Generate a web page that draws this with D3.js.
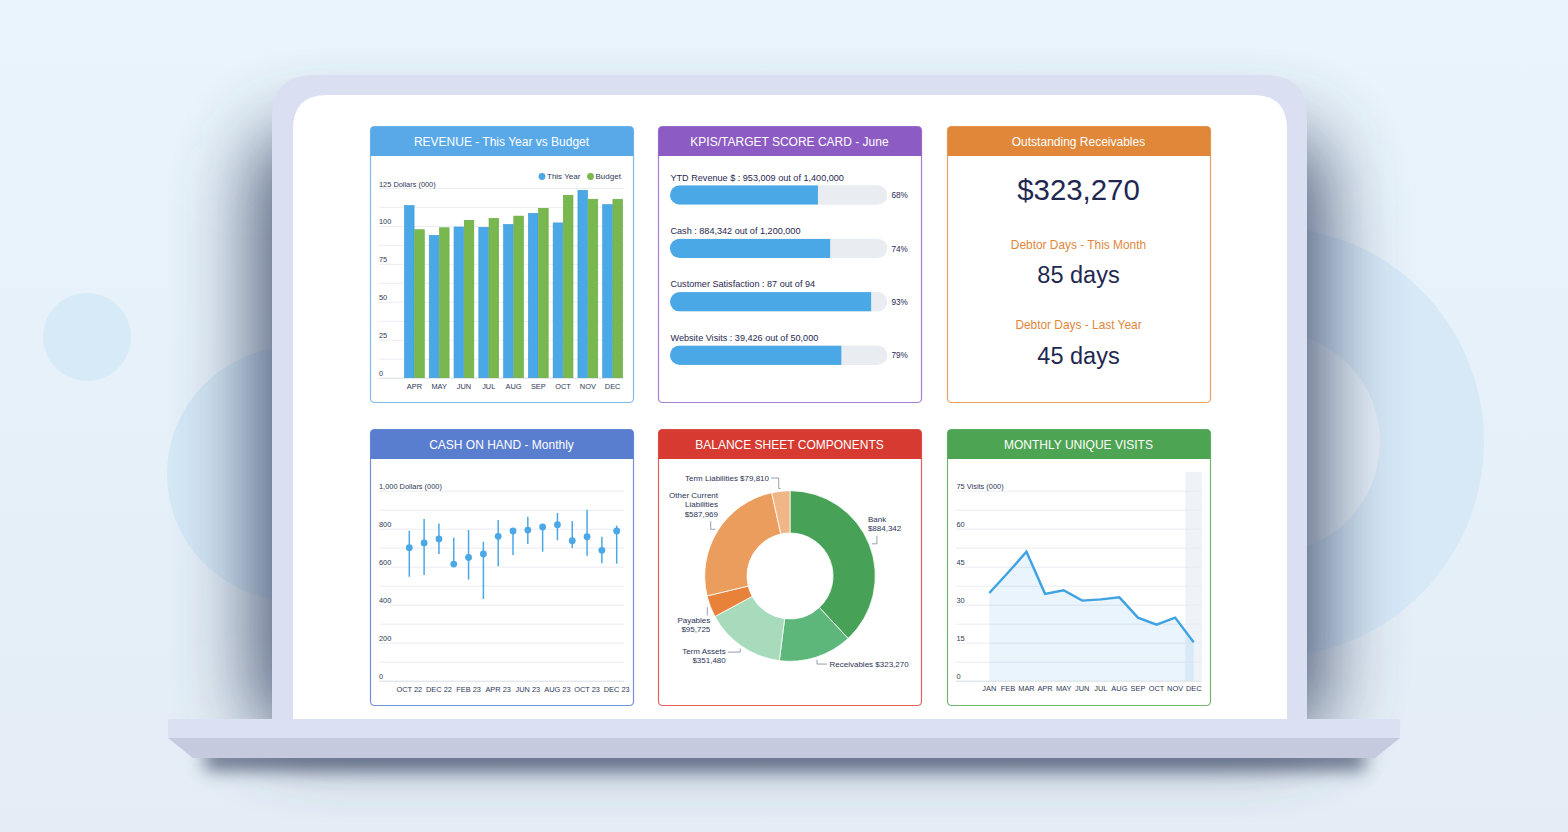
<!DOCTYPE html>
<html>
<head>
<meta charset="utf-8">
<script src="https://cdn.jsdelivr.net/npm/d3@7"></script>
<style>
  html, body { margin: 0; padding: 0; background: #e8f2fa; overflow: hidden; }
  svg { display: block; font-family: "Liberation Sans", Arial, sans-serif; }
</style>
</head>
<body>
<svg id="chart" width="1568" height="832"></svg>
<script>
// Dashboard values
var revenue_months = ["APR", "MAY", "JUN", "JUL", "AUG", "SEP", "OCT", "NOV", "DEC"];
var revenue_this_year = [113.5, 93.8, 99.3, 99.1, 101, 108.3, 102, 123.5, 114];
var revenue_budget = [97.5, 98.8, 103.7, 105, 106.5, 111.6, 120.2, 117.6, 117.6];
var revenue_ticks = [0, 25, 50, 75, 100, 125];

var kpi_labels = ["YTD Revenue $", "Cash", "Customer Satisfaction", "Website Visits"];
var kpi_values = [953009, 884342, 87, 39426];
var kpi_targets = [1400000, 1200000, 94, 50000];

var receivables_total = "$323,270";
var debtor_days_month = "85 days";
var debtor_days_last_year = "45 days";

var cash_months = ["OCT 22", "NOV 22", "DEC 22", "JAN 23", "FEB 23", "MAR 23", "APR 23", "MAY 23",
                   "JUN 23", "JUL 23", "AUG 23", "SEP 23", "OCT 23", "NOV 23", "DEC 23"];
var cash_value = [700, 725, 746, 614, 649, 667, 760, 788, 793, 809, 821, 737, 758, 686, 788];
var cash_low = [547, 556, 667, 602, 532, 430, 602, 661, 719, 679, 739, 698, 658, 618, 616];
var cash_high = [789, 851, 828, 753, 793, 732, 846, 802, 863, 821, 883, 840, 900, 758, 816];
var cash_ticks = [0, 200, 400, 600, 800, 1000];

var balance_names = ["Bank", "Receivables", "Term Assets", "Payables", "Other Current Liabilities", "Term Liabilities"];
var balance_values = [884342, 323270, 351480, 95725, 587969, 79810];
var balance_colors = ["#47a257", "#5db77a", "#a7dbbc", "#e8823b", "#eb9d5d", "#f0b685"];

var visit_months = ["JAN", "FEB", "MAR", "APR", "MAY", "JUN", "JUL", "AUG", "SEP", "OCT", "NOV", "DEC"];
var visit_values = [34.6, 42.6, 50.9, 34.3, 35.7, 31.6, 32.1, 32.9, 24.9, 22.1, 24.9, 15.2];
var visit_ticks = [0, 15, 30, 45, 60, 75];

var fmt = d3.format(",");
var navy = "#1f2850";
var axis_text = "#2e3758";
var blue = "#4aa8e6";

svg = d3.select("#chart");
var defs = svg.append("defs");

// ---------- background ----------
var bg = defs.append("linearGradient").attr("id", "bg").attr("x1", 0).attr("y1", 0).attr("x2", 0).attr("y2", 1);
bg.append("stop").attr("offset", "0%").attr("stop-color", "#e9f4fc");
bg.append("stop").attr("offset", "100%").attr("stop-color", "#e4edf5");

var blur_big = defs.append("filter").attr("id", "blurBig").attr("x", "-30%").attr("y", "-30%").attr("width", "160%").attr("height", "160%");
blur_big.append("feGaussianBlur").attr("stdDeviation", 40);
var blur_small = defs.append("filter").attr("id", "blurSmall").attr("x", "-20%").attr("y", "-200%").attr("width", "140%").attr("height", "500%");
blur_small.append("feGaussianBlur").attr("stdDeviation", 9);

svg.append("rect").attr("width", 1568).attr("height", 832).attr("fill", "url(#bg)");

// decorative circles
svg.append("circle").attr("cx", 87).attr("cy", 337).attr("r", 44).attr("fill", "#d7eaf8");
svg.append("circle").attr("cx", 294).attr("cy", 474).attr("r", 127).attr("fill", "#d5e8f6");
svg.append("circle").attr("cx", 1269).attr("cy", 442).attr("r", 215).attr("fill", "#d7e9f7");
svg.append("circle").attr("cx", 1269).attr("cy", 442).attr("r", 111).attr("fill", "#e7f1f9");

// ---------- laptop ----------
svg.append("rect").attr("x", 256).attr("y", 135).attr("width", 1067).attr("height", 600)
  .attr("rx", 40).attr("fill", "#3f4e6c").attr("opacity", 0.95).attr("filter", "url(#blurBig)");
svg.append("path")
  .attr("d", "M272,740 V117 Q272,75 314,75 H1265 Q1307,75 1307,117 V740 Z")
  .attr("fill", "#dadff2");
svg.append("path")
  .attr("d", "M293,725 V129 Q293,95 327,95 H1253 Q1287,95 1287,129 V725 Z")
  .attr("fill", "#ffffff");

// base shadow + base
svg.append("rect").attr("x", 205).attr("y", 748).attr("width", 1160).attr("height", 22)
  .attr("fill", "#3c4866").attr("opacity", 0.75).attr("filter", "url(#blurSmall)");
svg.append("rect").attr("x", 168).attr("y", 719).attr("width", 1232).attr("height", 20)
  .attr("rx", 2).attr("fill", "#dbe0f2");
svg.append("path").attr("d", "M168,738 L1400,738 L1375,758 L193,758 Z").attr("fill", "#c6cadf");

// ---------- cards ----------
var card_w = 263, card_h = 276, head_h = 30;

function draw_card(x, y, title, head_color, border_color, title_size) {
  var g = svg.append("g");
  g.append("rect").attr("x", x + 0.5).attr("y", y + 0.5).attr("width", card_w).attr("height", card_h)
    .attr("rx", 4).attr("fill", "#fff").attr("stroke", border_color).attr("stroke-width", 1.2);
  g.append("path")
    .attr("d", "M" + (x + 0.5) + "," + (y + head_h) + " V" + (y + 4.5) + " Q" + (x + 0.5) + "," + (y + 0.5) + " " + (x + 4.5) + "," + (y + 0.5)
      + " H" + (x + card_w - 3.5) + " Q" + (x + card_w + 0.5) + "," + (y + 0.5) + " " + (x + card_w + 0.5) + "," + (y + 4.5)
      + " V" + (y + head_h) + " Z")
    .attr("fill", head_color);
  g.append("text").attr("x", x + card_w / 2).attr("y", y + 15.5).attr("dy", "0.35em")
    .attr("text-anchor", "middle").attr("fill", "#fff").attr("font-size", title_size || 12).text(title);
  return g;
}

draw_card(370, 126, "REVENUE - This Year vs Budget", "#59a9e9", "#7ebcee");
draw_card(658, 126, "KPIS/TARGET SCORE CARD - June", "#8c5bc3", "#a67fd2");
draw_card(947, 126, "Outstanding Receivables", "#e0873a", "#eba05f");
draw_card(370, 429, "CASH ON HAND - Monthly", "#5a7ecf", "#7090d8");
draw_card(658, 429, "BALANCE SHEET COMPONENTS", "#d63a30", "#e0625a");
draw_card(947, 429, "MONTHLY UNIQUE VISITS", "#4da452", "#6cb86f");

function grid(g, y, step, max, x1, x2) {
  g.selectAll("line.grid").data(d3.range(0, max + 0.001, step)).enter().append("line")
    .attr("class", "grid")
    .attr("x1", x1).attr("x2", x2)
    .attr("y1", function(d) { return y(d) + 0.5; }).attr("y2", function(d) { return y(d) + 0.5; })
    .attr("stroke", function(d) { return d === 0 ? "#d3d8e0" : "#e8ebf0"; })
    .attr("stroke-width", 0.9);
}

function y_labels(g, y, ticks, unit, x) {
  g.selectAll("text.ylab").data(ticks).enter().append("text")
    .attr("class", "ylab")
    .attr("x", x).attr("y", function(d) { return y(d) - 1.5; })
    .attr("font-size", 7.4).attr("fill", axis_text)
    .text(function(d, i) { return i === ticks.length - 1 ? fmt(d) + " " + unit : fmt(d); });
}

// ---------- revenue ----------
var rev = svg.append("g");
var ry = d3.scaleLinear().domain([0, 125]).range([377.7, 188]);
var rx0 = d3.scaleBand().domain(revenue_months).range([402, 625]).paddingInner(0.2).paddingOuter(0.1);
var rx1 = d3.scaleBand().domain(["ty", "b"]).range([0, rx0.bandwidth()]).paddingInner(0.06);
grid(rev, ry, 12.5, 125, 379, 624);
y_labels(rev, ry, revenue_ticks, "Dollars (000)", 379);

var rev_rows = revenue_months.map(function(m, i) { return { m: m, ty: revenue_this_year[i], b: revenue_budget[i] }; });
rev.selectAll("rect.ty").data(rev_rows).enter().append("rect")
  .attr("x", function(d) { return rx0(d.m) + rx1("ty"); })
  .attr("y", function(d) { return ry(d.ty); })
  .attr("width", rx1.bandwidth())
  .attr("height", function(d) { return ry(0) - ry(d.ty); })
  .attr("fill", blue).attr("stroke", "#3b98d8").attr("stroke-width", 0.6);
rev.selectAll("rect.b").data(rev_rows).enter().append("rect")
  .attr("x", function(d) { return rx0(d.m) + rx1("b"); })
  .attr("y", function(d) { return ry(d.b); })
  .attr("width", rx1.bandwidth())
  .attr("height", function(d) { return ry(0) - ry(d.b); })
  .attr("fill", "#79b84f").attr("stroke", "#66a73e").attr("stroke-width", 0.6);
rev.selectAll("text.xlab").data(revenue_months).enter().append("text")
  .attr("x", function(d) { return rx0(d) + rx0.bandwidth() / 2; }).attr("y", 389)
  .attr("text-anchor", "middle").attr("font-size", 7.4).attr("fill", axis_text).text(function(d) { return d; });

var legend = rev.append("g");
legend.append("circle").attr("cx", 542).attr("cy", 176.5).attr("r", 3.4).attr("fill", blue);
legend.append("text").attr("x", 547).attr("y", 179.3).attr("font-size", 8).attr("fill", axis_text).text("This Year");
legend.append("circle").attr("cx", 590.5).attr("cy", 176.5).attr("r", 3.4).attr("fill", "#79b84f");
legend.append("text").attr("x", 595.5).attr("y", 179.3).attr("font-size", 8).attr("fill", axis_text).text("Budget");

// ---------- KPI score card ----------
var kpi = svg.append("g");
var kx = d3.scaleLinear().domain([0, 1]).range([670, 887.3]);
var bar_h = 19.4, kpi_step = 53.4;
kpi_labels.forEach(function(label, i) {
  var top = 185.3 + i * kpi_step;
  var pct = kpi_values[i] / kpi_targets[i];
  kpi.append("text").attr("x", 670.5).attr("y", top - 4.8).attr("font-size", 9.1).attr("fill", navy)
    .text(label + " : " + fmt(kpi_values[i]) + " out of " + fmt(kpi_targets[i]));
  defs.append("clipPath").attr("id", "kclip" + i).append("rect")
    .attr("x", kx(0)).attr("y", top).attr("width", kx(1) - kx(0)).attr("height", bar_h).attr("rx", bar_h / 2);
  kpi.append("rect").attr("x", kx(0)).attr("y", top).attr("width", kx(1) - kx(0)).attr("height", bar_h)
    .attr("rx", bar_h / 2).attr("fill", "#e9edf2");
  kpi.append("rect").attr("x", kx(0)).attr("y", top).attr("width", kx(pct) - kx(0)).attr("height", bar_h)
    .attr("fill", blue).attr("clip-path", "url(#kclip" + i + ")");
  kpi.append("text").attr("x", 891.5).attr("y", top + 12.9).attr("font-size", 8.2).attr("fill", navy)
    .text(Math.round(pct * 100) + "%");
});

// ---------- outstanding receivables ----------
var rec = svg.append("g").attr("text-anchor", "middle");
rec.append("text").attr("x", 1078.5).attr("y", 199.5).attr("font-size", 29.4).attr("fill", navy).text(receivables_total);
rec.append("text").attr("x", 1078.5).attr("y", 248.8).attr("font-size", 11.9).attr("fill", "#e0873a").text("Debtor Days - This Month");
rec.append("text").attr("x", 1078.5).attr("y", 282.5).attr("font-size", 23.5).attr("fill", navy).text(debtor_days_month);
rec.append("text").attr("x", 1078.5).attr("y", 329.2).attr("font-size", 11.9).attr("fill", "#e0873a").text("Debtor Days - Last Year");
rec.append("text").attr("x", 1078.5).attr("y", 363.5).attr("font-size", 23.5).attr("fill", navy).text(debtor_days_last_year);

// ---------- cash on hand ----------
var cash = svg.append("g");
var cy = d3.scaleLinear().domain([0, 1000]).range([680.7, 490.7]);
var cx = d3.scalePoint().domain(cash_months).range([409.3, 616.7]);
grid(cash, cy, 100, 1000, 379, 624);
y_labels(cash, cy, cash_ticks, "Dollars (000)", 379);
var cash_rows = cash_months.map(function(m, i) { return { m: m, v: cash_value[i], lo: cash_low[i], hi: cash_high[i] }; });
cash.selectAll("line.range").data(cash_rows).enter().append("line")
  .attr("x1", function(d) { return cx(d.m); }).attr("x2", function(d) { return cx(d.m); })
  .attr("y1", function(d) { return cy(d.lo); }).attr("y2", function(d) { return cy(d.hi); })
  .attr("stroke", blue).attr("stroke-width", 1.5);
cash.selectAll("circle").data(cash_rows).enter().append("circle")
  .attr("cx", function(d) { return cx(d.m); }).attr("cy", function(d) { return cy(d.v); })
  .attr("r", 3.4).attr("fill", blue);
cash.selectAll("text.xlab").data(cash_months.filter(function(d, i) { return i % 2 === 0; })).enter().append("text")
  .attr("x", function(d) { return cx(d); }).attr("y", 691.5)
  .attr("text-anchor", "middle").attr("font-size", 7.4).attr("fill", axis_text).text(function(d) { return d; });

// ---------- balance sheet donut ----------
var bal = svg.append("g");
var center = [790, 576];
var pie = d3.pie().sort(null).value(function(d) { return d; });
var arc = d3.arc().innerRadius(43).outerRadius(85.3);
var label_arc = d3.arc().innerRadius(88).outerRadius(88);
var slices = pie(balance_values);
bal.selectAll("path.slice").data(slices).enter().append("path")
  .attr("transform", "translate(" + center + ")")
  .attr("d", arc)
  .attr("fill", function(d, i) { return balance_colors[i]; })
  .attr("stroke", "#fff").attr("stroke-width", 0.8);

// label layout: elbow path offsets and text placement relative to the slice anchor
var balance_layout = [
  { lines: ["Bank", "$884,342"], path: [[5, 0], [5, -8]], tx: -4, ty: -21.5, anchor: "start" },
  { lines: ["Receivables $323,270"], path: [[0, 4.3], [10, 4.3]], tx: 12.5, ty: 7.2, anchor: "start" },
  { lines: ["Term Assets", "$351,480"], path: [[0, 3.5], [-12.5, 3.5]], tx: -14.5, ty: 5.8, anchor: "end" },
  { lines: ["Payables", "$95,725"], path: [[-0.5, 0], [-0.5, 8]], tx: 2.5, ty: 15.3, anchor: "end" },
  { lines: ["Other Current", "Liabilities", "$587,969"], path: [[-4.7, 0], [-4.7, -8]], tx: 2.6, ty: -30.9, anchor: "end" },
  { lines: ["Term Liabilities $79,810"], path: [[-1.8, 0], [-1.8, -10.5], [-9.5, -10.5]], tx: -11.5, ty: -7.5, anchor: "end" }
];
slices.forEach(function(d, i) {
  var c = label_arc.centroid(d);
  var ax = center[0] + c[0], ay = center[1] + c[1];
  var lay = balance_layout[i];
  var pts = [[ax, ay]].concat(lay.path.map(function(p) { return [ax + p[0], ay + p[1]]; }));
  bal.append("path").attr("d", d3.line()(pts)).attr("fill", "none").attr("stroke", "#7d869a").attr("stroke-width", 0.8);
  var t = bal.append("text").attr("text-anchor", lay.anchor).attr("font-size", 8).attr("fill", "#2b3456");
  lay.lines.forEach(function(line, j) {
    t.append("tspan").attr("x", ax + lay.tx).attr("y", ay + lay.ty + j * 9.1).text(line);
  });
});

// ---------- monthly unique visits ----------
var vis = svg.append("g");
var vy = d3.scaleLinear().domain([0, 75]).range([680.7, 490.7]);
var vx = d3.scalePoint().domain(visit_months).range([989.3, 1193.7]);
var vstep = vx.step();
vis.append("rect").attr("x", vx("DEC") - vstep / 2 + 1).attr("y", 471.7)
  .attr("width", vstep - 2).attr("height", vy(0) - 471.7).attr("fill", "#eef3f9");
grid(vis, vy, 7.5, 75, 956, 1201);
y_labels(vis, vy, visit_ticks, "Visits (000)", 956.5);
var vrows = visit_months.map(function(m, i) { return { m: m, v: visit_values[i] }; });
vis.append("path").datum(vrows)
  .attr("d", d3.area().x(function(d) { return vx(d.m); }).y0(vy(0)).y1(function(d) { return vy(d.v); }))
  .attr("fill", "#4aa8e6").attr("fill-opacity", 0.12);
vis.append("path").datum(vrows)
  .attr("d", d3.line().x(function(d) { return vx(d.m); }).y(function(d) { return vy(d.v); }))
  .attr("fill", "none").attr("stroke", "#3fa3e3").attr("stroke-width", 2.4).attr("stroke-linejoin", "miter");
vis.selectAll("text.xlab").data(visit_months).enter().append("text")
  .attr("x", function(d) { return vx(d); }).attr("y", 691)
  .attr("text-anchor", "middle").attr("font-size", 7.4).attr("fill", axis_text).text(function(d) { return d; });
</script>
</body>
</html>
